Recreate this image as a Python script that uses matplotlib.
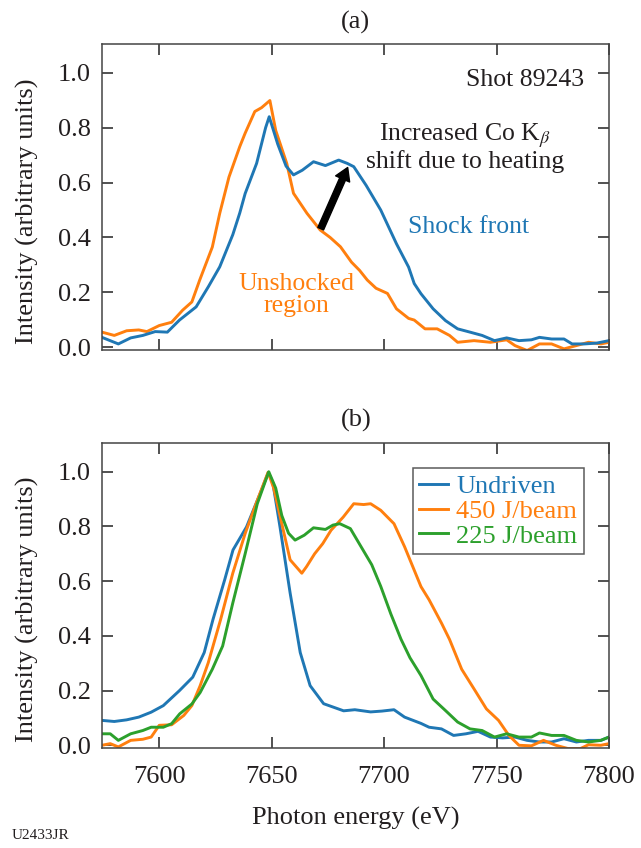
import matplotlib.pyplot as plt

plt.rcParams['font.family'] = ['Liberation Serif', 'DejaVu Serif']
plt.rcParams['mathtext.fontset'] = 'stix'
plt.rcParams['font.size'] = 19

BLUE = '#1f77b4'
ORANGE = '#ff7f0e'
GREEN = '#2ca02c'
INK = '#231f20'

# panel (a): shock front vs unshocked region
shock_x = [7574.5, 7581.8, 7587.3, 7592.7, 7598.2, 7603.6, 7609.0, 7616.4, 7621.8, 7626.9,
           7632.7, 7635.8, 7638.2, 7643.3, 7647.3, 7648.9, 7652.7, 7656.4, 7659.7, 7663.6,
           7668.6, 7673.9, 7679.8, 7683.6, 7686.5, 7692.0, 7698.5, 7705.5, 7710.9, 7713.4,
           7716.4, 7721.8, 7727.3, 7732.7, 7738.2, 7743.6, 7749.1, 7754.5, 7760.0, 7765.5,
           7769.1, 7774.5, 7780.0, 7783.6, 7789.1, 7794.5, 7800.0]
shock_y = [0.036, 0.012, 0.034, 0.043, 0.057, 0.055, 0.099, 0.147, 0.220, 0.293,
           0.410, 0.489, 0.560, 0.670, 0.800, 0.840, 0.740, 0.660, 0.628, 0.645,
           0.676, 0.662, 0.682, 0.670, 0.658, 0.590, 0.500, 0.377, 0.292, 0.232,
           0.195, 0.140, 0.097, 0.067, 0.055, 0.043, 0.024, 0.034, 0.024, 0.027,
           0.036, 0.030, 0.030, 0.012, 0.012, 0.015, 0.024]

unshocked_x = [7574.5, 7580.0, 7585.5, 7590.9, 7594.5, 7600.0, 7605.5, 7610.4, 7614.5, 7618.0,
               7623.6, 7626.9, 7631.0, 7635.8, 7638.2, 7642.5, 7645.5, 7649.2, 7651.8, 7656.7,
               7659.7, 7665.7, 7671.6, 7676.0, 7680.6, 7685.5, 7689.1, 7692.5, 7696.4, 7701.5,
               7705.5, 7710.9, 7713.4, 7718.2, 7723.6, 7729.1, 7732.7, 7740.0, 7747.3, 7754.5,
               7758.2, 7763.6, 7769.1, 7774.5, 7780.0, 7785.5, 7790.9, 7796.4, 7800.0]
unshocked_y = [0.055, 0.043, 0.060, 0.063, 0.057, 0.079, 0.091, 0.135, 0.165, 0.245,
               0.365, 0.488, 0.620, 0.731, 0.780, 0.859, 0.873, 0.899, 0.790, 0.670,
               0.561, 0.488, 0.427, 0.400, 0.366, 0.310, 0.280, 0.245, 0.215, 0.196,
               0.140, 0.105, 0.099, 0.067, 0.067, 0.043, 0.018, 0.024, 0.018, 0.027,
               0.006, -0.012, 0.012, 0.012, -0.006, 0.006, 0.018, 0.012, 0.018]

# panel (b): normalised spectra
undriven_x = [7574.5, 7580.0, 7585.5, 7590.9, 7596.4, 7601.8, 7609.0, 7614.9, 7620.0, 7623.9,
              7629.1, 7632.8, 7638.8, 7644.8, 7648.5, 7650.5, 7653.7, 7658.2, 7662.7, 7667.1,
              7673.1, 7682.0, 7687.0, 7694.0, 7699.0, 7704.4, 7709.1, 7716.4, 7720.0, 7725.5,
              7730.9, 7736.4, 7741.8, 7747.3, 7752.7, 7758.2, 7763.6, 7769.1, 7774.5, 7780.0,
              7785.5, 7790.9, 7796.4, 7800.0]
undriven_y = [0.091, 0.087, 0.093, 0.103, 0.121, 0.145, 0.200, 0.249, 0.339, 0.460,
              0.605, 0.714, 0.798, 0.919, 0.997, 0.960, 0.798, 0.557, 0.339, 0.218,
              0.152, 0.126, 0.130, 0.122, 0.125, 0.130, 0.103, 0.080, 0.066, 0.060,
              0.036, 0.042, 0.051, 0.030, 0.027, 0.030, 0.018, 0.012, 0.012, 0.024,
              0.012, 0.018, 0.018, 0.030]

j450_x = [7574.5, 7578.2, 7581.8, 7587.3, 7592.7, 7596.4, 7600.0, 7605.5, 7610.9, 7614.5,
          7618.2, 7621.8, 7627.3, 7632.7, 7638.2, 7643.6, 7648.4, 7650.9, 7654.5, 7658.2,
          7663.4, 7665.5, 7669.1, 7672.7, 7676.4, 7681.8, 7686.5, 7690.9, 7694.0, 7698.5,
          7704.4, 7709.1, 7716.4, 7720.0, 7725.5, 7729.1, 7734.5, 7740.0, 7745.5, 7750.9,
          7755.5, 7760.0, 7765.5, 7770.9, 7776.4, 7781.8, 7787.3, 7790.9, 7796.4, 7800.0]
j450_y = [0.000, 0.006, -0.006, 0.018, 0.022, 0.030, 0.073, 0.075, 0.109, 0.145,
          0.218, 0.302, 0.460, 0.629, 0.774, 0.895, 0.998, 0.940, 0.810, 0.678,
          0.629, 0.653, 0.700, 0.737, 0.786, 0.834, 0.883, 0.880, 0.883, 0.859,
          0.810, 0.726, 0.580, 0.532, 0.447, 0.387, 0.278, 0.206, 0.133, 0.091,
          0.036, 0.000, -0.002, 0.018, 0.000, -0.012, -0.012, 0.002, 0.000, 0.006]

j225_x = [7574.5, 7578.2, 7581.8, 7587.3, 7592.7, 7596.4, 7601.8, 7605.5, 7609.1, 7614.5,
          7618.2, 7623.6, 7628.2, 7632.7, 7638.2, 7643.6, 7648.7, 7651.8, 7654.5, 7657.5,
          7660.4, 7664.5, 7668.6, 7673.9, 7677.3, 7680.3, 7685.0, 7689.1, 7694.5, 7698.5,
          7703.0, 7707.5, 7711.5, 7716.4, 7721.8, 7727.3, 7732.7, 7738.2, 7743.6, 7749.1,
          7754.5, 7760.0, 7765.5, 7769.1, 7774.5, 7780.0, 7785.5, 7790.9, 7796.4, 7800.0]
j225_y = [0.042, 0.042, 0.018, 0.042, 0.054, 0.066, 0.066, 0.079, 0.115, 0.151,
          0.193, 0.278, 0.363, 0.520, 0.700, 0.883, 1.000, 0.940, 0.840, 0.775,
          0.750, 0.768, 0.795, 0.789, 0.805, 0.810, 0.792, 0.735, 0.660, 0.581,
          0.480, 0.388, 0.320, 0.255, 0.169, 0.127, 0.085, 0.060, 0.054, 0.030,
          0.042, 0.030, 0.030, 0.045, 0.036, 0.036, 0.018, 0.012, 0.018, 0.030]

x_ticks = [7600, 7650, 7700, 7750, 7800]
y_ticks = [0.0, 0.2, 0.4, 0.6, 0.8, 1.0]

fig = plt.figure(figsize=(6.41, 8.48), dpi=100)
ax_a = fig.add_axes([0.159, 0.5873, 0.791, 0.3608])
ax_b = fig.add_axes([0.159, 0.1179, 0.791, 0.3597])

for ax in (ax_a, ax_b):
    ax.set_xlim(7574.5, 7800)
    ax.set_ylim(-0.01, 1.105)
    ax.set_xticks(x_ticks)
    ax.set_yticks(y_ticks)
    ax.set_yticklabels([f'{v:.1f}' for v in y_ticks])
    ax.tick_params(direction='in', length=8, width=1.2, color='#333333',
                   top=True, right=True, labelsize=19, labelcolor=INK)
    ax.tick_params(axis='y', pad=8)
    ax.tick_params(axis='x', pad=13)
    for s in ax.spines.values():
        s.set_linewidth(1.1)
        s.set_color('#444444')
    ax.set_ylabel('Intensity (arbitrary units)', color=INK, fontsize=19)
    ax.yaxis.set_label_coords(-0.125, 0.455)

ax_a.tick_params(axis='x', labelbottom=False)

ax_a.plot(unshocked_x, unshocked_y, color=ORANGE, lw=2.1)
ax_a.plot(shock_x, shock_y, color=BLUE, lw=2.1)
ax_a.text(7789, 0.973, 'Shot 89243', ha='right', va='center', color=INK, fontsize=18.5)
ax_a.text(7736, 0.728, 'Increased Co K$_\\beta$\nshift due to heating', ha='center',
          va='center', color=INK, fontsize=18.5, linespacing=1.0)
ax_a.text(7737.6, 0.438, 'Shock front', ha='center', va='center', color=BLUE, fontsize=18.5)
ax_a.text(7660.9, 0.19, 'Unshocked\nregion', ha='center', va='center', color=ORANGE,
          fontsize=18.5, linespacing=1.0)
ax_a.annotate('', xy=(7683.8, 0.655), xytext=(7671.8, 0.432),
              arrowprops=dict(facecolor='black', edgecolor='black', width=4.5,
                              headwidth=11, headlength=9, shrink=0))

ax_b.plot(undriven_x, undriven_y, color=BLUE, lw=2.1, label='Undriven')
ax_b.plot(j450_x, j450_y, color=ORANGE, lw=2.1, label='450 J/beam')
ax_b.plot(j225_x, j225_y, color=GREEN, lw=2.1, label='225 J/beam')
leg = ax_b.legend(loc='upper right', bbox_to_anchor=(0.951, 0.918), fontsize=19,
                  frameon=True, fancybox=False, handlelength=1.1, handletextpad=0.3,
                  borderpad=0.25, labelspacing=0.05, borderaxespad=0)
leg.get_frame().set_edgecolor('#333333')
leg.get_frame().set_linewidth(1.1)
for t, c in zip(leg.get_texts(), [BLUE, ORANGE, GREEN]):
    t.set_color(c)

fig.text(0.555, 0.974, '(a)', ha='center', va='center', color=INK, fontsize=19)
fig.text(0.555, 0.5047, '(b)', ha='center', va='center', color=INK, fontsize=19)
fig.text(0.555, 0.0345, 'Photon energy (eV)', ha='center', va='center', color=INK, fontsize=19)
fig.text(0.018, 0.007, 'U2433JR', ha='left', va='bottom', color=INK, fontsize=11)

fig.savefig('out.png', dpi=100)
